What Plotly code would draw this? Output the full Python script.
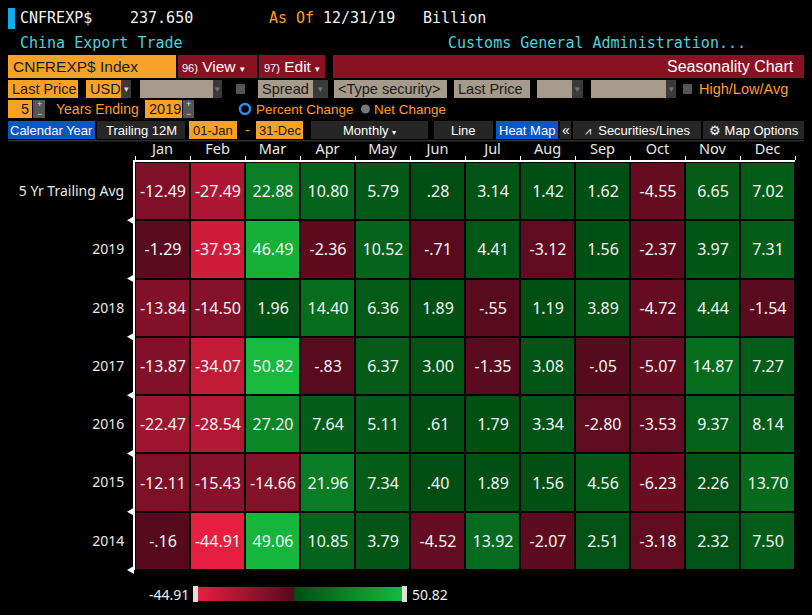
import plotly.graph_objs as go

# seasonality data, percent change month over month
months = ["Jan", "Feb", "Mar", "Apr", "May", "Jun", "Jul", "Aug", "Sep", "Oct", "Nov", "Dec"]
rows = ["5 Yr Trailing Avg", "2019", "2018", "2017", "2016", "2015", "2014"]

avg5 = [-12.49, -27.49, 22.88, 10.80, 5.79, 0.28, 3.14, 1.42, 1.62, -4.55, 6.65, 7.02]
y2019 = [-1.29, -37.93, 46.49, -2.36, 10.52, -0.71, 4.41, -3.12, 1.56, -2.37, 3.97, 7.31]
y2018 = [-13.84, -14.50, 1.96, 14.40, 6.36, 1.89, -0.55, 1.19, 3.89, -4.72, 4.44, -1.54]
y2017 = [-13.87, -34.07, 50.82, -0.83, 6.37, 3.00, -1.35, 3.08, -0.05, -5.07, 14.87, 7.27]
y2016 = [-22.47, -28.54, 27.20, 7.64, 5.11, 0.61, 1.79, 3.34, -2.80, -3.53, 9.37, 8.14]
y2015 = [-12.11, -15.43, -14.66, 21.96, 7.34, 0.40, 1.89, 1.56, 4.56, -6.23, 2.26, 13.70]
y2014 = [-0.16, -44.91, 49.06, 10.85, 3.79, -4.52, 13.92, -2.07, 2.51, -3.18, 2.32, 7.50]

z = [avg5, y2019, y2018, y2017, y2016, y2015, y2014]


def fmt(v):
    s = f"{v:.2f}"
    if abs(v) < 1:
        s = s.replace("0.", ".", 1)
    return s


text = [[fmt(v) for v in r] for r in z]
zmin = min(min(r) for r in z)
zmax = max(max(r) for r in z)
zero = -zmin / (zmax - zmin)

# page puts the figure 8px in from the corner, so the figure is a bit smaller
OX, OY = 8, 8
W, H = 812, 615
# plot area in screen pixels
L, R, T, B = 135, 795, 162, 570
def fx(x):
    return (x - L) / (R - L)
def fy(y):
    return (B - y) / (B - T)

MONO = "DejaVu Sans Mono"
UI = "Liberation Sans"
NUM = "Noto Sans"

ORANGE = "#f7a126"
ORTXT = "#ff9d26"
BEIGE = "#a69a8b"
DRED = "#8a1122"
BLUE = "#0a55c8"
DARK = "#262626"
CYAN = "#46d4de"

shapes = []
annos = []


def rect(x0, y0, x1, y1, color):
    shapes.append(dict(type="rect", xref="paper", yref="paper", x0=fx(x0), x1=fx(x1),
                       y0=fy(y1), y1=fy(y0), fillcolor=color, line=dict(width=0), layer="above"))


def txt(x, y, s, color, size, font=UI, anchor="left"):
    annos.append(dict(xref="paper", yref="paper", x=fx(x), y=fy(y), text=s, showarrow=False,
                      xanchor=anchor, yanchor="middle", borderpad=0,
                      font=dict(family=font, size=size, color=color)))


# header lines
rect(7, 5, 15, 29, "#18a8f0")
txt(19, 18, "CNFREXP$", "#f2f2f2", 15, MONO)
txt(129, 18, "237.650", "#f2f2f2", 15, MONO)
txt(268, 18, "As Of", ORTXT, 15, MONO)
txt(322, 18, "12/31/19", "#f2f2f2", 15, MONO)
txt(422, 18, "Billion", "#f2f2f2", 15, MONO)
txt(19, 43, "China Export Trade", CYAN, 15, MONO)
txt(447, 43, "Customs General Administration...", CYAN, 15, MONO)

# row 3
rect(8, 55, 176, 78, ORANGE)
txt(12, 66.5, "CNFREXP$ Index", "#1a1a1a", 15.5)
rect(178, 55, 257, 78, DRED)
txt(181, 66.5, "<span style='font-size:11px'>96)</span> View <span style='font-size:9px'>▾</span>", "#ffffff", 15.5)
rect(259, 55, 325, 78, DRED)
txt(263, 66.5, "<span style='font-size:11px'>97)</span> Edit <span style='font-size:9px'>▾</span>", "#ffffff", 15.5)
rect(333, 55, 806, 78, DRED)
txt(795, 66.5, "Seasonality Chart", "#ffffff", 16, anchor="right")

# row 4
ry0, ry1, rym = 80, 98, 89
rect(8, ry0, 78, ry1, ORANGE)
txt(11, rym, "Last Price", "#1a1a1a", 14.5)
rect(86, ry0, 121, ry1, ORANGE)
txt(89, rym, "USD", "#1a1a1a", 14.5)
rect(121, ry0, 131, ry1, "#3a3a3a")
txt(126, rym, "▾", "#dddddd", 9, anchor="center")
rect(140, ry0, 213, ry1, BEIGE)
rect(213, ry0, 222, ry1, "#3a3a3a")
txt(217.5, rym, "▾", "#777777", 9, anchor="center")
rect(236, 84, 245, 94, "#555555")
rect(258, ry0, 313, ry1, BEIGE)
txt(261, rym, "Spread", "#1a1a1a", 14.5)
rect(313, ry0, 328, ry1, "#3a3a3a")
txt(320.5, rym, "▾", "#777777", 9, anchor="center")
rect(334, ry0, 447, ry1, BEIGE)
txt(337, rym, "&lt;Type security&gt;", "#1a1a1a", 14.5)
rect(454, ry0, 530, ry1, BEIGE)
txt(457, rym, "Last Price", "#1a1a1a", 14.5)
rect(537, ry0, 572, ry1, BEIGE)
rect(572, ry0, 583, ry1, "#3a3a3a")
txt(577.5, rym, "▾", "#777777", 9, anchor="center")
rect(591, ry0, 666, ry1, BEIGE)
rect(666, ry0, 676, ry1, "#3a3a3a")
txt(671, rym, "▾", "#777777", 9, anchor="center")
rect(683, 84, 692, 94, "#555555")
txt(698, rym, "High/Low/Avg", ORTXT, 14.5)

# row 5
ry0, ry1, rym = 100, 118, 109
rect(8, ry0, 32, ry1, ORANGE)
txt(30, rym, "5", "#1a1a1a", 14.5, anchor="right")
rect(33, ry0, 45, ry1, "#555555")
txt(39, 104, "+", "#dddddd", 9, anchor="center")
txt(39, 113.5, "−", "#dddddd", 9, anchor="center")
txt(55, rym, "Years Ending", ORTXT, 14)
rect(145, ry0, 182, ry1, ORANGE)
txt(148, rym, "2019", "#1a1a1a", 14.5)
rect(183, ry0, 194, ry1, "#555555")
txt(188.5, 104, "+", "#dddddd", 9, anchor="center")
txt(188.5, 113.5, "−", "#dddddd", 9, anchor="center")
shapes.append(dict(type="circle", xref="paper", yref="paper", x0=fx(240), x1=fx(250),
                   y0=fy(114), y1=fy(104), fillcolor="#000000",
                   line=dict(color="#2d8cf0", width=2.5), layer="above"))
txt(255, rym, "Percent Change", ORTXT, 13.5)
shapes.append(dict(type="circle", xref="paper", yref="paper", x0=fx(361), x1=fx(370),
                   y0=fy(113.5), y1=fy(104.5), fillcolor="#777777", line=dict(width=0), layer="above"))
txt(373, rym, "Net Change", ORTXT, 13.5)

# row 6
ry0, ry1, rym = 121, 139, 130
rect(8, ry0, 95, ry1, BLUE)
txt(51.5, rym, "Calendar Year", "#ffffff", 13, anchor="center")
rect(97, ry0, 185, ry1, DARK)
txt(141, rym, "Trailing 12M", "#ffffff", 13, anchor="center")
rect(189, ry0, 237, ry1, ORANGE)
txt(213, rym, "01-Jan", "#1a1a1a", 13, anchor="center")
txt(247, rym, "-", ORTXT, 14, anchor="center")
rect(256, ry0, 303, ry1, ORANGE)
txt(279.5, rym, "31-Dec", "#1a1a1a", 13, anchor="center")
rect(311, ry0, 428, ry1, DARK)
txt(369, rym, "Monthly <span style='font-size:8px'>▾</span>", "#ffffff", 13, anchor="center")
rect(434, ry0, 493, ry1, DARK)
txt(463.5, rym, "Line", "#ffffff", 13, anchor="center")
rect(496, ry0, 558, ry1, BLUE)
txt(527, rym, "Heat Map", "#ffffff", 13, anchor="center")
rect(560, ry0, 571, ry1, DARK)
txt(565.5, rym, "«", "#ffffff", 14, anchor="center")
rect(573, ry0, 701, ry1, DARK)
txt(637, rym, "<span style='font-size:11px'>⩘</span>  Securities/Lines", "#ffffff", 13, anchor="center")
rect(703, ry0, 806, ry1, DARK)
txt(754, rym, "⚙ Map Options", "#ffffff", 13, anchor="center")
rect(0, 140, 812, 141.5, "#2e2e2e")

# little row markers on the left edge
for i in range(1, len(rows) + 1):
    yb = T + i * (B - T) / len(rows)
    shapes.append(dict(type="path", xref="paper", yref="paper",
                       path=f"M {fx(127)},{fy(yb)} L {fx(134)},{fy(yb - 4)} L {fx(134)},{fy(yb + 4)} Z",
                       fillcolor="#ffffff", line=dict(width=0), layer="above"))

# colorbar end handles + labels
rect(193, 586, 198, 602, "#dedede")
rect(402, 586, 407, 602, "#dedede")
txt(190, 594, fmt(zmin), "#eeeeee", 14, NUM, anchor="right")
txt(411, 594, fmt(zmax), "#eeeeee", 14, NUM)

colorscale = [
    [0.0, "#e61f40"],
    [zero, "#560a1e"],
    [zero, "#004d12"],
    [1.0, "#16ba3c"],
]

fig = go.Figure()
fig.add_trace(go.Heatmap(
    z=z, x=months, y=rows, text=text, texttemplate="%{text}",
    textfont=dict(family=NUM, size=16, color="#f4f4f4"),
    colorscale=colorscale, zmin=zmin, zmax=zmax, xgap=2, ygap=2,
    hoverinfo="skip",
    colorbar=dict(orientation="h", x=fx(300), xanchor="center", y=fy(594), yanchor="middle",
                  len=204, lenmode="pixels", thickness=14, thicknessmode="pixels",
                  showticklabels=False, ticks="", outlinewidth=0, xpad=0, ypad=0),
))

fig.update_layout(
    width=W - OX, height=H - OY,
    margin=dict(l=L - OX, r=W - R, t=T - OY, b=H - B, pad=0, autoexpand=False),
    paper_bgcolor="#000000", plot_bgcolor="#000000",
    shapes=shapes, annotations=annos,
    showlegend=False,
)
fig.update_xaxes(side="top", showline=True, linecolor="#ffffff", linewidth=2,
                 ticks="outside", tickson="boundaries", ticklen=4, tickcolor="#ffffff",
                 tickfont=dict(family=NUM, size=14.5, color="#e8e8e8"), showgrid=False,
                 zeroline=False, fixedrange=True, automargin=False)
fig.update_yaxes(autorange="reversed", showline=True, linecolor="#ffffff", linewidth=2,
                 ticks="", ticklabelstandoff=6,
                 tickfont=dict(family=NUM, size=14, color="#e8e8e8"), showgrid=False,
                 zeroline=False, fixedrange=True, automargin=False)

# black page behind the figure so the 8px border is not white
fig.write_html("out.html", post_script="document.body.style.background='#000000';")
